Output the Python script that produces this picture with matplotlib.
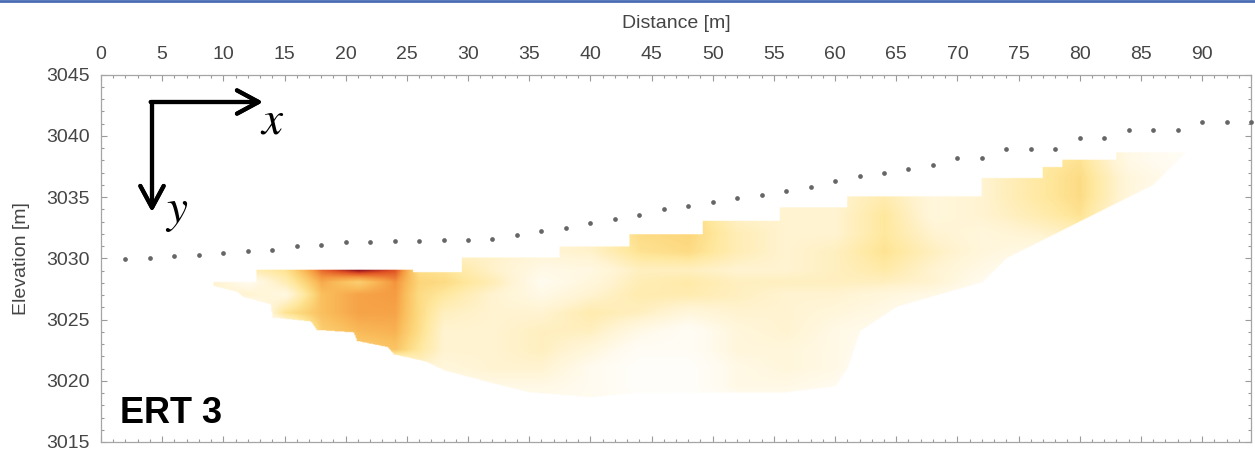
import numpy as np
import matplotlib
matplotlib.use("Agg")
from matplotlib import pyplot as plt
from matplotlib.colors import LinearSegmentedColormap
from matplotlib.lines import Line2D
from matplotlib.ticker import MultipleLocator

plt.rcParams['font.family'] = ['Liberation Sans', 'DejaVu Sans']
plt.rcParams['mathtext.fontset'] = 'stix'

# electrode positions (m) and their elevations (m)
elec_x = list(range(2, 96, 2))
elec_z = [3029.9, 3030.0, 3030.2, 3030.3, 3030.4, 3030.6, 3030.7, 3031.0, 3031.1, 3031.3,
          3031.3, 3031.4, 3031.4, 3031.5, 3031.5, 3031.6, 3031.9, 3032.2, 3032.5, 3032.9,
          3033.2, 3033.5, 3034.0, 3034.3, 3034.6, 3034.9, 3035.2, 3035.5, 3035.8, 3036.3,
          3036.7, 3037.0, 3037.3, 3037.6, 3038.2, 3038.2, 3038.9, 3038.9, 3038.9, 3039.8,
          3039.8, 3040.5, 3040.5, 3040.5, 3041.1, 3041.1, 3041.1]

# top edge of the model section (step starts, elevation)
top_x = [9.2, 12.7, 25.5, 29.5, 37.5, 43.2, 49.2, 55.5, 61.0, 72.0, 77.0, 78.6, 83.0]
top_z = [3028.0, 3029.0, 3028.8, 3030.0, 3030.9, 3031.9, 3033.0, 3034.1, 3035.0, 3036.5,
         3037.4, 3038.0, 3038.6]
# bottom edge of the model section
bot_x = [9.2, 11.1, 11.6, 13.8, 14.0, 17.1, 17.6, 20.6, 20.9, 23.4, 23.9, 26.6, 28, 31, 35,
         40, 44, 50, 56, 60, 61, 62, 65, 72, 74, 80, 86, 88.5]
bot_z = [3027.7, 3027.2, 3026.8, 3026.2, 3025.1, 3024.8, 3024.1, 3023.9, 3023.2, 3022.7,
         3022.1, 3021.5, 3020.8, 3020.0, 3019.0, 3018.6, 3019.0, 3019.0, 3019.0, 3019.5,
         3021.0, 3024.0, 3026.0, 3028.0, 3030.0, 3033.0, 3036.0, 3038.5]

# relative intensity (0 = white, 1 = dark red)
grid_x = [9, 12, 15, 18, 21, 24, 26, 28, 32, 36, 40, 44, 48, 52, 56, 60, 64, 68, 72, 76, 80, 84, 88]
grid_z = [3018, 3019.5, 3021, 3022.5, 3024, 3025.5, 3027, 3028, 3029, 3030.5, 3032, 3033.5,
          3035, 3036.5, 3038, 3039]
grid_v = [
    [0, 0, 0, 0, 0, 0, 0, 0, .10, .15, .15, .10, .05, .10, .10, .05, 0, 0, 0, 0, 0, 0, 0],
    [0, 0, 0, 0, 0, 0, 0, .15, .20, .20, .15, .05, .05, .20, .20, .15, 0, 0, 0, 0, 0, 0, 0],
    [0, 0, 0, 0, 0, 0, .30, .25, .30, .30, .15, .05, .05, .20, .25, .20, .05, 0, 0, 0, 0, 0, 0],
    [0, 0, 0, 0, .58, .62, .45, .30, .30, .35, .25, .10, .10, .25, .25, .20, .10, 0, 0, 0, 0, 0, 0],
    [0, 0, 0, .58, .66, .68, .50, .30, .30, .35, .35, .20, .10, .25, .30, .20, .15, .05, 0, 0, 0, 0, 0],
    [0, 0, .48, .64, .72, .72, .52, .35, .30, .30, .40, .35, .25, .30, .30, .25, .20, .10, 0, 0, 0, 0, 0],
    [.28, .30, .22, .64, .72, .74, .52, .45, .30, .20, .30, .40, .40, .35, .30, .30, .25, .20, .10, 0, 0, 0, 0],
    [.32, .15, .38, .70, .58, .76, .55, .52, .38, .15, .25, .38, .42, .35, .35, .35, .35, .30, .15, .05, 0, 0, 0],
    [.32, .38, .48, .84, 1.0, .88, .50, .48, .32, .20, .22, .35, .35, .30, .30, .35, .42, .30, .20, .10, .05, 0, 0],
    [.30, .30, .30, .30, .30, .30, .30, .30, .32, .28, .32, .48, .52, .38, .30, .35, .48, .35, .25, .20, .15, .05, 0],
    [.30, .30, .30, .30, .30, .30, .30, .30, .30, .30, .32, .52, .55, .38, .30, .30, .45, .30, .25, .30, .35, .15, .05],
    [.30, .30, .30, .30, .30, .30, .30, .30, .30, .30, .30, .50, .55, .32, .30, .30, .45, .25, .30, .38, .48, .20, .10],
    [.30, .30, .30, .30, .30, .30, .30, .30, .30, .30, .30, .45, .50, .30, .30, .30, .40, .25, .30, .42, .52, .25, .10],
    [.30, .30, .30, .30, .30, .30, .30, .30, .30, .30, .30, .45, .50, .30, .30, .30, .40, .25, .30, .42, .52, .25, .15],
    [.30, .30, .30, .30, .30, .30, .30, .30, .30, .30, .30, .45, .50, .30, .30, .30, .40, .25, .30, .42, .48, .20, .10],
    [.30, .30, .30, .30, .30, .30, .30, .30, .30, .30, .30, .45, .50, .30, .30, .30, .40, .25, .30, .40, .45, .20, .10],
]

cmap = LinearSegmentedColormap.from_list("ert", [
    (0.00, (1.00, 1.00, 1.00)),
    (0.15, (1.00, 0.985, 0.94)),
    (0.30, (1.00, 0.955, 0.82)),
    (0.45, (1.00, 0.91, 0.62)),
    (0.55, (0.99, 0.84, 0.48)),
    (0.65, (0.98, 0.74, 0.36)),
    (0.75, (0.96, 0.60, 0.25)),
    (0.88, (0.88, 0.32, 0.14)),
    (1.00, (0.55, 0.05, 0.12)),
])

# resample the grid bilinearly onto a fine mesh
xf = np.linspace(8, 90, 821)
zf = np.linspace(3017, 3041, 481)
gv = np.array(grid_v)
tmp = np.array([np.interp(xf, grid_x, row) for row in gv])
field = np.array([np.interp(zf, grid_z, tmp[:, j]) for j in range(len(xf))]).T
X, Z = np.meshgrid(xf, zf)
idx = np.clip(np.searchsorted(top_x, xf, side='right') - 1, 0, len(top_z) - 1)
top = np.array(top_z)[idx]
bottom = np.interp(xf, bot_x, bot_z)
outside = (Z > top[None, :]) | (Z < bottom[None, :]) | (X < 9.2) | (X > 88.5)
field = np.where(outside, 0.0, field)

fig = plt.figure(figsize=(12.55, 4.54), dpi=100)
ax = fig.add_axes([101 / 1255, 12 / 454, 1150 / 1255, 367.5 / 454])

ax.imshow(field, extent=[xf[0], xf[-1], zf[0], zf[-1]], origin='lower', cmap=cmap,
          vmin=0, vmax=1, aspect='auto', interpolation='bilinear', zorder=1)
ax.plot(elec_x, elec_z, 'o', ms=3.4, color='#666666', mec='none', zorder=5, clip_on=False)

ax.set_xlim(0, 94)
ax.set_ylim(3015, 3045)
ax.xaxis.set_major_locator(MultipleLocator(5))
ax.xaxis.set_minor_locator(MultipleLocator(1))
ax.yaxis.set_major_locator(MultipleLocator(5))
ax.yaxis.set_minor_locator(MultipleLocator(1))
ax.set_xticks(range(0, 95, 5))
ax.tick_params(which='both', direction='in', top=True, bottom=True, left=True, right=True,
               labeltop=True, labelbottom=False, color='#9a9a9a', width=0.8)
ax.tick_params(which='major', length=4)
ax.tick_params(which='minor', length=2.5)
ax.tick_params(axis='x', which='major', pad=8, labelsize=14, labelcolor='#454545')
ax.tick_params(axis='y', which='major', pad=8, labelsize=14, labelcolor='#454545')
for s in ax.spines.values():
    s.set_color('#a5a5a5')
    s.set_linewidth(0.9)

ax.xaxis.set_label_position('top')
ax.set_xlabel('Distance [m]', fontsize=14, color='#454545', labelpad=13)
ax.set_ylabel('Elevation [m]', fontsize=14, color='#454545', labelpad=12)

# coordinate-system arrows
corner = (152 / 1255, 1 - 102 / 454)
arrow = dict(arrowstyle='->,head_length=0.65,head_width=0.35', lw=3, color='k',
             mutation_scale=24, shrinkA=0, shrinkB=0)
fig.add_artist(plt.annotate('', xy=(263 / 1255, corner[1]), xytext=(corner[0] - 0.001, corner[1]),
                            xycoords='figure fraction', arrowprops=arrow))
fig.add_artist(plt.annotate('', xy=(corner[0], 1 - 212 / 454), xytext=corner,
                            xycoords='figure fraction', arrowprops=arrow))
fig.text(272 / 1255, 1 - 121 / 454, r'$x$', fontsize=34, ha='center', va='center')
fig.text(177 / 1255, 1 - 212 / 454, r'$y$', fontsize=34, ha='center', va='center')
fig.text(120 / 1255, 1 - 423 / 454, 'ERT 3', fontsize=26, fontweight='bold', ha='left',
         va='baseline', color='k')

fig.add_artist(Line2D([0, 1], [1 - 1 / 454, 1 - 1 / 454], color='#4a6cb3', lw=2,
                      transform=fig.transFigure))

fig.savefig("out.png", dpi=100)
